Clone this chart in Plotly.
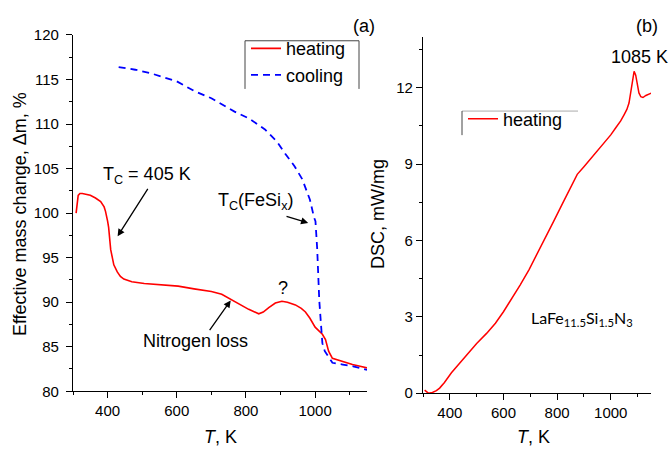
import plotly.graph_objects as go

# ---------------- data ----------------
T_heat = [309, 312, 315, 320, 327, 340, 350, 365, 380, 390, 394, 400, 403, 409, 418, 428,
          437, 447, 470, 506, 550, 604, 650, 700, 730, 749, 780, 808, 837, 850, 866, 885,
          904, 920, 943, 960, 972, 985, 1000, 1012, 1021, 1030, 1034, 1039, 1050, 1080,
          1108, 1130, 1152]
mass_heat = [100.0, 101.0, 102.0, 102.2, 102.2, 102.1, 102.0, 101.7, 101.3, 100.7, 100.2,
             99.1, 98.4, 95.9, 94.2, 93.4, 92.9, 92.6, 92.3, 92.1, 92.0, 91.8, 91.5, 91.2,
             90.9, 90.5, 89.8, 89.2, 88.7, 88.9, 89.4, 89.9, 90.1, 90.0, 89.7, 89.3, 88.9,
             88.2, 87.2, 86.8, 86.4, 85.8, 85.3, 84.5, 83.7, 83.3, 83.0, 82.8, 82.6]

T_cool = [432, 480, 525, 600, 651, 700, 767, 810, 855, 890, 913, 940, 963, 985, 997, 1001,
          1006, 1012, 1017, 1021, 1028, 1036, 1050, 1080, 1110, 1150]
mass_cool = [116.4, 116.1, 115.7, 114.8, 113.7, 112.9, 111.4, 110.6, 109.4, 108.0, 106.7,
             105.3, 103.8, 101.5, 99.5, 99.1, 96.0, 90.2, 87.5, 85.4, 84.5, 84.0, 83.2,
             83.0, 82.8, 82.4]

T_dsc = [306, 312, 320, 335, 350, 362, 380, 406, 430, 462, 500, 537, 570, 600, 630, 662,
         695, 725, 760, 787, 820, 850, 875, 900, 924, 950, 974, 1000, 1020, 1037, 1050,
         1060, 1068, 1074, 1080, 1087, 1093, 1099, 1105, 1112, 1120, 1131, 1142, 1153]
dsc = [0.12, 0.05, 0.0, 0.03, 0.1, 0.2, 0.42, 0.8, 1.1, 1.5, 1.95, 2.35, 2.75, 3.2, 3.7,
       4.25, 4.85, 5.45, 6.15, 6.75, 7.45, 8.1, 8.6, 8.9, 9.2, 9.5, 9.8, 10.15, 10.45,
       10.7, 10.95, 11.15, 11.4, 11.8, 12.3, 12.65, 12.5, 12.1, 11.8, 11.65, 11.62,
       11.7, 11.75, 11.8]

W, H = 670, 458
FONT = "Liberation Sans, Arial, sans-serif"


def px(x):
    return x / W


def py(y):
    return 1 - y / H


fig = go.Figure()
fig.add_trace(go.Scatter(x=T_heat, y=mass_heat, mode="lines", name="heating",
                         line=dict(color="#ff0000", width=1.6),
                         xaxis="x", yaxis="y", legend="legend"))
fig.add_trace(go.Scatter(x=T_cool, y=mass_cool, mode="lines", name="cooling",
                         line=dict(color="#0000ff", width=1.8, dash="7px,5px"),
                         xaxis="x", yaxis="y", legend="legend"))
fig.add_trace(go.Scatter(x=T_dsc, y=dsc, mode="lines", name="heating",
                         line=dict(color="#ff0000", width=1.5),
                         xaxis="x2", yaxis="y2", legend="legend2"))

axis_common = dict(showline=True, linecolor="black", linewidth=1.3, ticks="outside",
                   tickcolor="black", tickwidth=1.2, ticklen=6, showgrid=False,
                   zeroline=False, mirror=False,
                   tickfont=dict(family=FONT, size=15, color="black"))
minor = dict(ticks="outside", ticklen=3, tickcolor="black", tickwidth=1.2, showgrid=False)

fig.update_layout(
    width=W, height=H, autosize=False,
    margin=dict(l=0, r=0, t=0, b=0),
    paper_bgcolor="white", plot_bgcolor="white",
    font=dict(family=FONT, size=18, color="black"),
    xaxis=dict(domain=[px(73), px(367)], range=[300, 1150], tickvals=[400, 600, 800, 1000],
               minor=dict(dtick=100, tick0=300, **minor), anchor="y", **axis_common),
    yaxis=dict(domain=[py(397), py(27)], range=[80, 120], dtick=5,
               minor=dict(dtick=2.5, **minor), anchor="x", ticklabelstandoff=4,
               **axis_common),
    xaxis2=dict(domain=[px(423), px(651)], range=[300, 1150], tickvals=[400, 600, 800, 1000],
                minor=dict(dtick=100, tick0=300, **minor), anchor="y2", **axis_common),
    yaxis2=dict(domain=[py(399), py(29)], range=[0, 14], tickvals=[0, 3, 6, 9, 12],
                minor=dict(dtick=1.5, **minor), anchor="x2", **axis_common),
    legend=dict(x=px(246), y=py(22), xanchor="left", yanchor="top",
                bgcolor="rgba(0,0,0,0)", borderwidth=0, tracegroupgap=0,
                font=dict(family=FONT, size=18, color="black")),
    legend2=dict(x=px(463), y=py(95), xanchor="left", yanchor="top",
                 bgcolor="rgba(0,0,0,0)", borderwidth=0,
                 font=dict(family=FONT, size=18, color="black")),
    showlegend=True,
)

# legend frames (partial, as in the reference)
shapes = [
    dict(type="line", xref="paper", yref="paper", x0=px(245), x1=px(359), y0=py(33), y1=py(33),
         line=dict(color="#444", width=1)),
    dict(type="line", xref="paper", yref="paper", x0=px(245), x1=px(245), y0=py(33), y1=py(83),
         line=dict(color="#444", width=1)),
    dict(type="line", xref="paper", yref="paper", x0=px(359), x1=px(359), y0=py(33), y1=py(83),
         line=dict(color="#444", width=1)),
    dict(type="line", xref="paper", yref="paper", x0=px(462), x1=px(578), y0=py(106), y1=py(106),
         line=dict(color="#aaa", width=1)),
    dict(type="line", xref="paper", yref="paper", x0=px(462), x1=px(462), y0=py(106), y1=py(131),
         line=dict(color="#444", width=1)),
]
fig.update_layout(shapes=shapes)

ann = []
# axis titles
ann.append(dict(text="Effective mass change, \u0394m, %", xref="paper", yref="paper",
                x=px(20), y=py(213), textangle=-90, showarrow=False,
                xanchor="center", yanchor="middle", font=dict(size=18)))
ann.append(dict(text="<i>T</i>, K", xref="paper", yref="paper", x=px(220), y=py(445),
                showarrow=False, xanchor="center", yanchor="middle", font=dict(size=18)))
ann.append(dict(text="DSC, mW/mg", xref="paper", yref="paper", x=px(378), y=py(213),
                textangle=-90, showarrow=False, xanchor="center", yanchor="middle",
                font=dict(size=18)))
ann.append(dict(text="<i>T</i>, K", xref="paper", yref="paper", x=px(533), y=py(445),
                showarrow=False, xanchor="center", yanchor="middle", font=dict(size=18)))
# panel labels
ann.append(dict(text="(a)", xref="paper", yref="paper", x=px(364), y=py(18),
                showarrow=False, xanchor="center", yanchor="middle", font=dict(size=18)))
ann.append(dict(text="(b)", xref="paper", yref="paper", x=px(647), y=py(18),
                showarrow=False, xanchor="center", yanchor="middle", font=dict(size=18)))
# panel (a) annotations
ann.append(dict(text="T<sub>C</sub> = 405 K", xref="x", yref="y", x=514, y=104.2,
                showarrow=False, font=dict(size=18)))
ann.append(dict(text="", xref="x", yref="y", x=429, y=97.4, ax=519, ay=102.9,
                axref="x", ayref="y", showarrow=True, arrowhead=2, arrowsize=1.1,
                arrowwidth=1.3, arrowcolor="black"))
ann.append(dict(text="T<sub>C</sub>(FeSi<sub>x</sub>)", xref="x", yref="y", x=829, y=101.3,
                showarrow=False, font=dict(size=18)))
ann.append(dict(text="", xref="x", yref="y", x=980, y=98.9, ax=913, ay=99.7,
                axref="x", ayref="y", showarrow=True, arrowhead=2, arrowsize=1.1,
                arrowwidth=1.3, arrowcolor="black"))
ann.append(dict(text="?", xref="x", yref="y", x=907, y=91.6, showarrow=False,
                font=dict(size=18)))
ann.append(dict(text="Nitrogen loss", xref="x", yref="y", x=654, y=85.6, showarrow=False,
                font=dict(size=18)))
ann.append(dict(text="", xref="x", yref="y", x=756, y=90.2, ax=692, ay=86.7,
                axref="x", ayref="y", showarrow=True, arrowhead=2, arrowsize=1.1,
                arrowwidth=1.3, arrowcolor="black"))
# panel (b) annotations
ann.append(dict(text="1085 K", xref="paper", yref="paper", x=px(639), y=py(50),
                showarrow=False, xanchor="center", yanchor="middle", font=dict(size=18)))
ann.append(dict(text="LaFe<sub>11.5</sub>Si<sub>1.5</sub>N<sub>3</sub>", xref="paper",
                yref="paper", x=px(582), y=py(321), showarrow=False, xanchor="center",
                yanchor="middle", font=dict(family="Lato, Open Sans, sans-serif", size=16)))
fig.update_layout(annotations=ann)

fig.write_html("out.html")
